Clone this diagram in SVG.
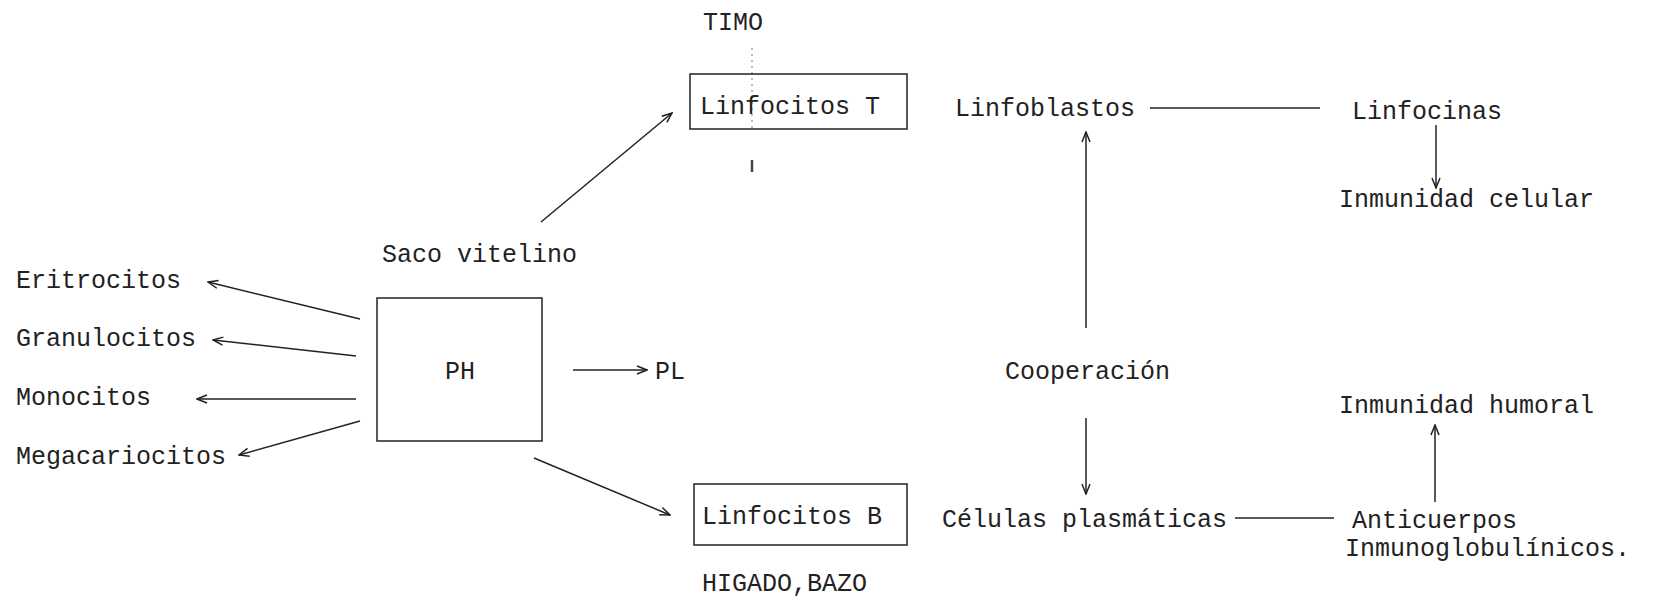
<svg xmlns="http://www.w3.org/2000/svg" width="1658" height="601" viewBox="0 0 1658 601">
<style>
text{font-family:"Liberation Mono","DejaVu Sans Mono",monospace;font-size:25px;fill:#222}
.box{fill:none;stroke:#222;stroke-width:1.5}
.c{fill:none;stroke:#222;stroke-width:1.5}
.faint{fill:none;stroke:#bbb;stroke-width:2;stroke-dasharray:2 4}
</style>
<defs>
<marker id="ah" viewBox="0 0 12 10" refX="11" refY="5" markerWidth="12" markerHeight="10" markerUnits="userSpaceOnUse" orient="auto">
<path d="M1,1 L11,5 L1,9" fill="none" stroke="#222" stroke-width="1.5"/>
</marker>
</defs>
<rect width="1658" height="601" fill="#fff"/>
<g id="connectors">
<line class="c" x1="541" y1="222" x2="672" y2="113" marker-end="url(#ah)"/>
<line class="c" x1="360" y1="319" x2="208" y2="282" marker-end="url(#ah)"/>
<line class="c" x1="356" y1="356" x2="213" y2="340" marker-end="url(#ah)"/>
<line class="c" x1="356" y1="399" x2="197" y2="399" marker-end="url(#ah)"/>
<line class="c" x1="360" y1="421" x2="239" y2="455" marker-end="url(#ah)"/>
<line class="c" x1="573" y1="370" x2="647" y2="370" marker-end="url(#ah)"/>
<line class="c" x1="534" y1="458" x2="670" y2="515" marker-end="url(#ah)"/>
<line class="c" x1="1150" y1="108" x2="1320" y2="108"/>
<line class="c" x1="1436" y1="125" x2="1436" y2="188" marker-end="url(#ah)"/>
<line class="c" x1="1086" y1="328" x2="1086" y2="132" marker-end="url(#ah)"/>
<line class="c" x1="1086" y1="418" x2="1086" y2="494" marker-end="url(#ah)"/>
<line class="c" x1="1235" y1="518" x2="1334" y2="518"/>
<line class="c" x1="1435" y1="502" x2="1435" y2="425" marker-end="url(#ah)"/>
<line class="faint" x1="752" y1="48" x2="752" y2="130"/>
<line x1="752" y1="160" x2="752" y2="172" stroke="#444" stroke-width="2.5"/>
</g>
<g id="timo"><text x="703" y="30">TIMO</text></g>
<g id="linfocitosT"><rect class="box" x="690" y="74" width="217" height="55"/><text x="700" y="114">Linfocitos T</text></g>
<g id="saco"><text x="382" y="262">Saco vitelino</text></g>
<g id="ph"><rect class="box" x="377" y="298" width="165" height="143"/><text x="445" y="379">PH</text></g>
<g id="eritrocitos"><text x="16" y="288">Eritrocitos</text></g>
<g id="granulocitos"><text x="16" y="346">Granulocitos</text></g>
<g id="monocitos"><text x="16" y="405">Monocitos</text></g>
<g id="megacariocitos"><text x="16" y="464">Megacariocitos</text></g>
<g id="pl"><text x="655" y="379">PL</text></g>
<g id="linfocitosB"><rect class="box" x="694" y="484" width="213" height="61"/><text x="702" y="524">Linfocitos B</text></g>
<g id="higado"><text x="702" y="591">HIGADO,BAZO</text></g>
<g id="linfoblastos"><text x="955" y="116">Linfoblastos</text></g>
<g id="linfocinas"><text x="1352" y="119">Linfocinas</text></g>
<g id="celular"><text x="1339" y="207">Inmunidad celular</text></g>
<g id="cooperacion"><text x="1005" y="379">Cooperación</text></g>
<g id="plasmaticas"><text x="942" y="527">Células plasmáticas</text></g>
<g id="anticuerpos"><text x="1352" y="528">Anticuerpos</text><text x="1345" y="556">Inmunoglobulínicos.</text></g>
<g id="humoral"><text x="1339" y="413">Inmunidad humoral</text></g>
</svg>
